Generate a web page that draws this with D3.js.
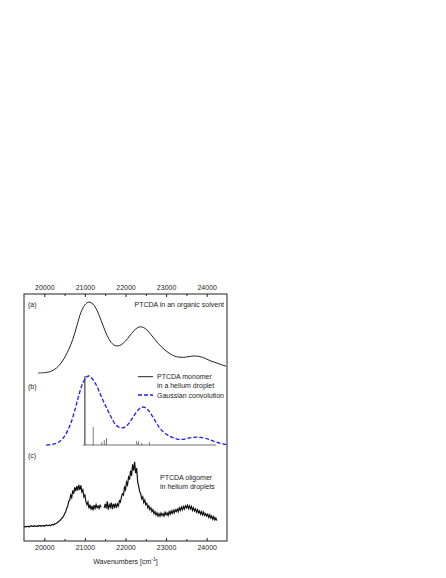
<!DOCTYPE html>
<html>
<head>
<meta charset="utf-8">
<script src="https://cdn.jsdelivr.net/npm/d3@7"></script>
<style>
  body { margin: 0; background: #fff; }
  svg { display: block; font-family: "Liberation Sans", Arial, sans-serif; }
</style>
</head>
<body>
<svg></svg>
<script>
// x axis ticks (wavenumbers, cm-1)
var majorTicks = [20000, 21000, 22000, 23000, 24000];
var minorTicks = [20500, 21500, 22500, 23500];

// (a) PTCDA in an organic solvent
var solventWn = [19850, 20000, 20150, 20300, 20450, 20600, 20700, 20800, 20900, 21000,
                 21100, 21200, 21300, 21400, 21500, 21600, 21700, 21800, 21900, 22000,
                 22100, 22200, 22300, 22400, 22500, 22600, 22700, 22800, 22900, 23000,
                 23100, 23200, 23300, 23400, 23500, 23600, 23700, 23800, 23900, 24000,
                 24100, 24200, 24300, 24400, 24480];
var solventInt = [0.00, 0.005, 0.02, 0.07, 0.17, 0.33, 0.47, 0.66, 0.85, 0.96,
                  1.00, 0.97, 0.88, 0.74, 0.59, 0.47, 0.40, 0.38, 0.40, 0.45,
                  0.52, 0.59, 0.64, 0.65, 0.62, 0.56, 0.49, 0.42, 0.36, 0.31,
                  0.27, 0.24, 0.225, 0.22, 0.225, 0.235, 0.24, 0.235, 0.22, 0.195,
                  0.17, 0.15, 0.13, 0.11, 0.095];

// (b) Gaussian convolution
var convWn = [20050, 20150, 20250, 20350, 20450, 20550, 20650, 20750, 20850, 20950,
              21050, 21100, 21150, 21250, 21350, 21450, 21550, 21650, 21750, 21850,
              21950, 22050, 22150, 22250, 22350, 22450, 22550, 22650, 22750, 22850,
              22950, 23050, 23150, 23250, 23350, 23450, 23550, 23650, 23750, 23850,
              23950, 24050, 24150, 24250, 24350, 24450, 24500];
var convInt = [0.00, 0.005, 0.015, 0.04, 0.09, 0.18, 0.31, 0.50, 0.72, 0.90,
               0.99, 1.00, 0.98, 0.90, 0.78, 0.64, 0.52, 0.40, 0.30, 0.255,
               0.25, 0.29, 0.37, 0.46, 0.53, 0.55, 0.51, 0.43, 0.33, 0.24,
               0.18, 0.14, 0.11, 0.09, 0.08, 0.085, 0.10, 0.11, 0.115, 0.11,
               0.10, 0.08, 0.06, 0.04, 0.02, 0.01, 0.005];

// (b) PTCDA monomer stick spectrum
var stickRange = [20950, 24230];
var stickWn  = [21000, 21205, 21415, 21478, 21532, 22276, 22320, 22400, 22590];
var stickInt = [1.00, 0.26, 0.04, 0.07, 0.10, 0.06, 0.05, 0.03, 0.04];

// (c) PTCDA oligomer in helium droplets, sampled every 25 cm-1 from 19500
var oligomerStart = 19500, oligomerStep = 25;
var oligomerInt = [
  0.00,0.01,0.00,0.01,0.01,0.00,0.01,0.02,0.01,0.01,0.02,0.01,0.01,0.02,0.01,0.02,0.02,0.01,0.02,0.02,0.01,0.02,0.03,0.02,0.02,
  0.03,0.02,0.03,0.04,0.03,0.05,0.05,0.06,0.07,0.08,0.10,0.11,
  0.13,0.15,0.17,0.21,0.23,0.29,0.32,0.40,0.42,0.50,0.46,0.57,
  0.52,0.62,0.56,0.64,0.57,0.66,0.58,0.65,0.55,0.58,0.47,0.50,
  0.40,0.35,0.39,0.29,0.35,0.27,0.33,0.26,0.34,0.29,0.35,0.30,0.33,0.29,0.34,0.31,
  null,null,
  0.30,0.36,0.29,0.40,0.27,0.35,0.31,0.38,0.28,0.36,0.31,0.37,0.30,0.36,0.33,0.41,0.39,
  0.47,0.52,0.50,0.62,0.58,0.70,0.66,0.78,0.74,0.88,0.80,0.98,0.88,1.02,0.84,0.92,0.70,
  0.64,0.55,0.52,0.44,0.47,0.38,0.42,0.35,0.37,0.30,0.33,0.27,0.30,0.24,0.27,0.21,0.24,0.19,0.22,0.17,
  0.21,0.17,0.22,0.18,0.21,0.17,0.23,0.19,0.22,0.18,0.24,0.20,0.25,0.21,0.26,0.22,0.27,0.24,0.28,0.24,0.30,0.26,0.31,0.27,0.32,0.28,0.33,0.30,
  0.34,0.29,0.33,0.28,0.32,0.26,0.30,0.25,0.28,0.23,0.27,0.22,0.25,0.20,0.24,0.19,0.23,0.18,0.21,0.17,0.20,0.15,0.19,0.14,0.17,0.12,0.16,0.11,0.14,0.10
];

(function() {
    var width = 446, height = 578;
    var frameLeft = 24, frameRight = 227, frameTop = 294, frameBottom = 541;

    var svg = d3.select("svg")
        .attr("width", width)
        .attr("height", height);

    var x = d3.scaleLinear().domain([19500, 24500]).range([frameLeft, frameRight]);
    var yA = d3.scaleLinear().domain([0, 1]).range([373, 302]);
    var yB = d3.scaleLinear().domain([0, 1]).range([445, 376]);
    var yC = d3.scaleLinear().domain([0, 1]).range([527, 463]);

    // frame
    svg.append("rect")
        .attr("x", frameLeft).attr("y", frameTop)
        .attr("width", frameRight - frameLeft).attr("height", frameBottom - frameTop)
        .attr("fill", "none").attr("stroke", "#222").attr("stroke-width", 1);

    function styleAxis(g) {
        g.select(".domain").remove();
        g.selectAll("line").attr("stroke", "#222");
        g.selectAll("text").attr("font-size", 7).attr("fill", "#222")
            .attr("font-family", "Liberation Sans, Arial, sans-serif");
    }

    svg.append("g").attr("transform", "translate(0," + frameTop + ")")
        .call(d3.axisTop(x).tickValues(majorTicks).tickSize(-3).tickPadding(4).tickFormat(d3.format("d")))
        .call(styleAxis);
    svg.append("g").attr("transform", "translate(0," + frameTop + ")")
        .call(d3.axisTop(x).tickValues(minorTicks).tickSize(-2).tickFormat(""))
        .call(styleAxis);
    svg.append("g").attr("transform", "translate(0," + frameBottom + ")")
        .call(d3.axisBottom(x).tickValues(majorTicks).tickSize(-3).tickPadding(4).tickFormat(d3.format("d")))
        .call(styleAxis);
    svg.append("g").attr("transform", "translate(0," + frameBottom + ")")
        .call(d3.axisBottom(x).tickValues(minorTicks).tickSize(-2).tickFormat(""))
        .call(styleAxis);

    // x label
    var xl = svg.append("text")
        .attr("x", (frameLeft + frameRight) / 2).attr("y", 564)
        .attr("text-anchor", "middle").attr("font-size", 7).attr("fill", "#222");
    xl.append("tspan").text("Wavenumbers [cm");
    xl.append("tspan").attr("dy", -3).attr("font-size", 5).text("-1");
    xl.append("tspan").attr("dy", 3).text("]");

    // (a)
    var lineA = d3.line()
        .x(function(d, i) { return x(solventWn[i]); })
        .y(function(d) { return yA(d); })
        .curve(d3.curveCatmullRom.alpha(0.5));
    svg.append("path").datum(solventInt)
        .attr("d", lineA).attr("fill", "none").attr("stroke", "#222").attr("stroke-width", 1);

    // (b) sticks
    svg.append("line")
        .attr("x1", x(stickRange[0])).attr("x2", x(stickRange[1]))
        .attr("y1", yB(0)).attr("y2", yB(0))
        .attr("stroke", "#333").attr("stroke-width", 0.7);
    svg.selectAll(".stick").data(stickInt).enter().append("line")
        .attr("class", "stick")
        .attr("x1", function(d, i) { return x(stickWn[i]); })
        .attr("x2", function(d, i) { return x(stickWn[i]); })
        .attr("y1", yB(0))
        .attr("y2", function(d) { return yB(d); })
        .attr("stroke", function(d, i) { return i == 0 ? "#222" : "#555"; })
        .attr("stroke-width", function(d, i) { return i == 0 ? 1 : 0.8; });

    var lineB = d3.line()
        .x(function(d, i) { return x(convWn[i]); })
        .y(function(d) { return yB(d); })
        .curve(d3.curveCatmullRom.alpha(0.5));
    svg.append("path").datum(convInt)
        .attr("d", lineB).attr("fill", "none").attr("stroke", "#1a1aff")
        .attr("stroke-width", 1.3).attr("stroke-dasharray", "4,2");

    // (c)
    var lineC = d3.line()
        .defined(function(d) { return d != null; })
        .x(function(d, i) { return x(oligomerStart + i * oligomerStep); })
        .y(function(d) { return yC(d); });
    svg.append("path").datum(oligomerInt)
        .attr("d", lineC).attr("fill", "none").attr("stroke", "#111").attr("stroke-width", 1.2);

    // labels
    function label(tx, ty, s, anchor) {
        svg.append("text").attr("x", tx).attr("y", ty)
            .attr("text-anchor", anchor || "start")
            .attr("font-size", 7).attr("fill", "#222").text(s);
    }
    label(28, 307, "(a)");
    label(28, 389, "(b)");
    label(28, 458, "(c)");
    label(224, 307, "PTCDA in an organic solvent", "end");
    label(157, 379, "PTCDA monomer");
    label(157, 388, "in a helium droplet");
    label(157, 397.5, "Gaussian convolution");
    label(160, 480, "PTCDA oligomer");
    label(160, 488.5, "in helium droplets");

    svg.append("line").attr("x1", 138).attr("x2", 153).attr("y1", 376.7).attr("y2", 376.7)
        .attr("stroke", "#222").attr("stroke-width", 1);
    svg.append("line").attr("x1", 138).attr("x2", 153).attr("y1", 395).attr("y2", 395)
        .attr("stroke", "#1a1aff").attr("stroke-width", 1.3).attr("stroke-dasharray", "4,2");
})();
</script>
</body>
</html>
